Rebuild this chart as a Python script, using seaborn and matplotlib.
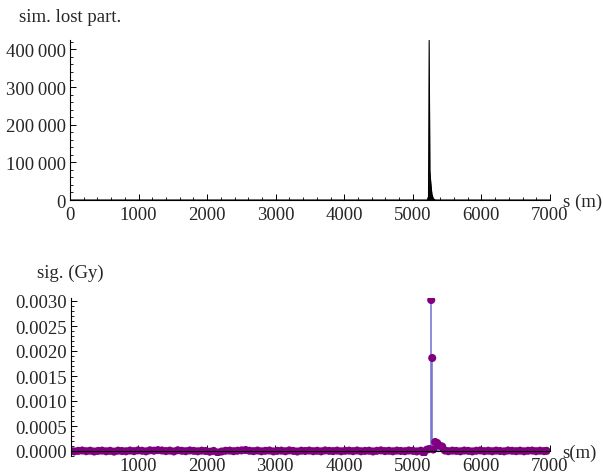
import numpy as np
import seaborn as sns
import matplotlib
matplotlib.use('Agg')
import matplotlib.pyplot as plt
from matplotlib.ticker import MultipleLocator, FuncFormatter

# --- simulated lost particles (top panel) ---
s_lost = [0, 5228, 5238, 5248, 5263, 5278, 5300, 5330, 7000]
n_lost = [0, 0, 424000, 77000, 42000, 15000, 3000, 0, 0]

# --- BLM signal (bottom panel), positions in m and signal in micro-Gy ---
s_blm = [15, 72, 131, 188, 246, 305, 362, 420, 478, 537,
         594, 652, 711, 768, 826, 884, 943, 1000, 1058, 1117,
         1174, 1232, 1290, 1349, 1406, 1464, 1523, 1580, 1638, 1696,
         1755, 1812, 1870, 1929, 1986, 2044, 2102, 2161, 2218, 2276,
         2335, 2392, 2450, 2508, 2567, 2624, 2682, 2741, 2798, 2856,
         2914, 2973, 3030, 3088, 3147, 3204, 3262, 3320, 3379, 3436,
         3494, 3553, 3610, 3668, 3726, 3785, 3842, 3900, 3959, 4016,
         4074, 4132, 4191, 4248, 4306, 4365, 4422, 4480, 4538, 4597,
         4654, 4712, 4771, 4828, 4886, 4944, 5003, 5060, 5118, 5162,
         5205, 5240, 5270, 5285, 5300, 5328, 5357, 5390, 5430, 5470,
         5520, 5578, 5636, 5695, 5752, 5810, 5868, 5927, 5984, 6042,
         6101, 6158, 6216, 6274, 6333, 6390, 6448, 6507, 6564, 6622,
         6680, 6739, 6796, 6854, 6912, 6950]
sig_ugy = [5, -8, 3, 10, -4, 6, -10, 2, 8, -6,
           4, -12, 7, 0, -5, 9, -3, 12, 5, -7,
           14, 6, 18, 10, -2, 8, -9, 15, 4, -4,
           11, 3, -6, 7, 0, -14, 2, -30, -10, 5,
           8, -4, 6, 12, 20, 5, -3, 9, -6, 4,
           10, -8, 3, 7, -5, 12, 2, -10, 6, 0,
           9, -4, 5, -7, 11, 3, -2, 8, -6, 4,
           7, -3, 10, -5, 2, 6, -9, 4, 12, -2,
           5, -6, 8, 1, -4, 10, 3, -8, 6, -40,
           25, 40, 3020, 1860, 30, 180, 160, 110, 90, 10,
           -4, 7, 2, -6, 9, 3, -8, 5, 11, -3,
           6, -5, 8, 0, -7, 10, 4, -3, 7, -6,
           5, 9, -4, 6, -2, 3]
sig = np.array(sig_ugy) * 1e-6

sns.set_style('white')
plt.rcParams['font.family'] = ['Liberation Serif', 'DejaVu Serif']
plt.rcParams['font.size'] = 13.5

fig = plt.figure(figsize=(6.03, 4.77), dpi=100)
ax1 = fig.add_axes([70/603, 1-201/477, 480/603, 160/477])
ax2 = fig.add_axes([71/603, 1-457/477, 479/603, 158/477])


def style_axes(ax):
    for side in ['top', 'right']:
        ax.spines[side].set_visible(False)
    for side in ['left', 'bottom']:
        ax.spines[side].set_color('black')
        ax.spines[side].set_linewidth(0.8)
    ax.tick_params(which='both', bottom=True, left=True, top=False, right=False)
    ax.tick_params(which='major', direction='in', length=4, width=0.7, color='black', pad=3)
    ax.tick_params(which='minor', direction='in', length=2, width=0.6, color='black')
    ax.tick_params(axis='x', pad=4)
    ax.grid(False)


# top panel
sns.lineplot(x=s_lost, y=n_lost, color='black', lw=0.8, ax=ax1)
ax1.fill_between(s_lost, n_lost, 0, color='black', lw=0)
ax1.set_xlim(0, 7000)
ax1.set_ylim(0, 425000)
ax1.xaxis.set_major_locator(MultipleLocator(1000))
ax1.xaxis.set_minor_locator(MultipleLocator(200))
ax1.yaxis.set_major_locator(MultipleLocator(100000))
ax1.yaxis.set_minor_locator(MultipleLocator(20000))
ax1.yaxis.set_major_formatter(FuncFormatter(lambda v, p: f'{v:,.0f}'.replace(',', '\u2009')))
ax1.set_xlabel('')
ax1.set_ylabel('')
style_axes(ax1)

# bottom panel
ax2.vlines(s_blm, 0, sig, color='#6f6fd0', lw=1.1, zorder=1)
sns.scatterplot(x=s_blm, y=sig, color='#800080', s=34, edgecolor='none', ax=ax2, zorder=2)
ax2.set_xlim(25, 7000)
ax2.set_ylim(-0.0001, 0.00306)
ax2.spines['bottom'].set_position(('data', 0))
ax2.xaxis.set_major_locator(MultipleLocator(1000))
ax2.xaxis.set_minor_locator(MultipleLocator(200))
ax2.yaxis.set_major_locator(MultipleLocator(0.0005))
ax2.yaxis.set_minor_locator(MultipleLocator(0.0001))
ax2.yaxis.set_major_formatter(FuncFormatter(lambda v, p: f'{v:.4f}'))
ax2.set_xlabel('')
ax2.set_ylabel('')
style_axes(ax2)
for sp in ax2.spines.values():
    sp.set_zorder(3)

# axis labels in Mathematica style
fig.text(70/603, 1-18/477, 'sim. lost part.', ha='center', va='center')
fig.text(563/603, 1-202/477, 's (m)', ha='left', va='center')
fig.text(70/603, 1-273/477, 'sig. (Gy)', ha='center', va='center')
fig.text(562/603, 1-453/477, 's(m)', ha='left', va='center')

fig.savefig('out.png', dpi=100)
